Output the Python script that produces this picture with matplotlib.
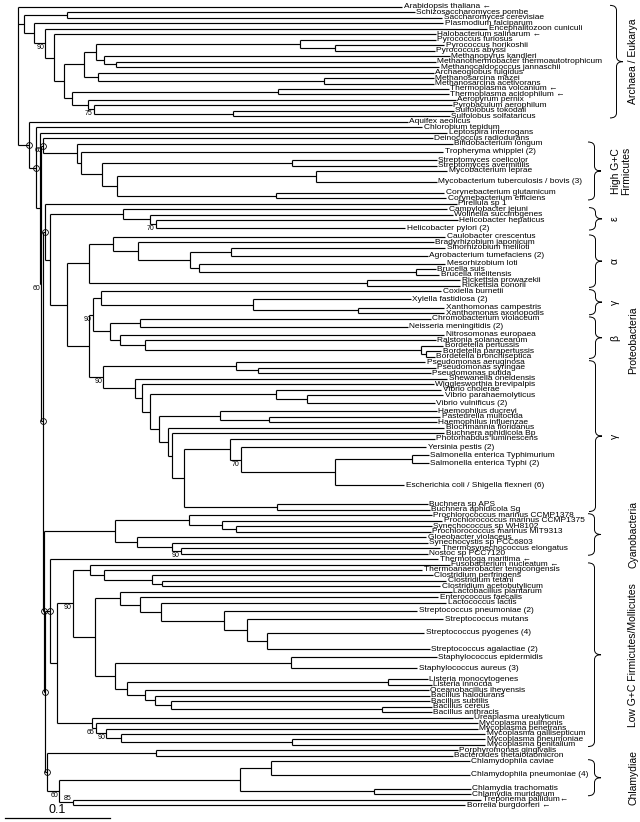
import re
import matplotlib
matplotlib.use("Agg")
import matplotlib.pyplot as plt
from matplotlib.collections import LineCollection
from matplotlib.path import Path
from matplotlib.patches import PathPatch

plt.rcParams['font.family'] = ['Liberation Sans', 'DejaVu Sans']

# leaf codes -> printed names; "(n)" = number of collapsed strains
leaf_names = {
    'Ath': 'Arabidopsis thaliana ←', 'Spo': 'Schizosaccharomyces pombe',
    'Sce': 'Saccharomyces cerevisiae', 'Pfa': 'Plasmodium falciparum',
    'Ecu': 'Encephalitozoon cuniculi', 'Hsa': 'Halobacterium salinarum ←',
    'Pfu': 'Pyrococcus furiosus', 'Pho': 'Pyrococcus horikoshii', 'Pab': 'Pyrococcus abyssi',
    'Mka': 'Methanopyrus kandleri', 'Mth': 'Methanothermobacter thermoautotrophicum',
    'Mja': 'Methanocaldococcus jannaschii', 'Afu': 'Archaeoglobus fulgidus',
    'Mma': 'Methanosarcina mazei', 'Mac': 'Methanosarcina acetivorans',
    'Tvo': 'Thermoplasma volcanium ←', 'Tac': 'Thermoplasma acidophilum ←',
    'Ape': 'Aeropyrum pernix', 'Pya': 'Pyrobaculum aerophilum',
    'Sto': 'Sulfolobus tokodaii', 'Sso': 'Sulfolobus solfataricus',
    'Aae': 'Aquifex aeolicus', 'Ctep': 'Chlorobium tepidum',
    'Lint': 'Leptospira interrogans', 'Dra': 'Deinococcus radiodurans',
    'Blo': 'Bifidobacterium longum', 'Twh': 'Tropheryma whipplei (2)',
    'Sco': 'Streptomyces coelicolor', 'Sav': 'Streptomyces avermitilis',
    'Mle': 'Mycobacterium leprae', 'Mtu': 'Mycobacterium tuberculosis / bovis (3)',
    'Cgl': 'Corynebacterium glutamicum', 'Cef': 'Corynebacterium efficiens',
    'Pir': 'Pirellula sp 1', 'Cje': 'Campylobacter jejuni', 'Wsu': 'Wolinella succinogenes',
    'Hhe': 'Helicobacter hepaticus', 'Hpy': 'Helicobacter pylori (2)',
    'Ccr': 'Caulobacter crescentus', 'Bja': 'Bradyrhizobium japonicum',
    'Sme': 'Sinorhizobium meliloti', 'Atu': 'Agrobacterium tumefaciens (2)',
    'Mlo': 'Mesorhizobium loti', 'Bsui': 'Brucella suis', 'Bme': 'Brucella melitensis',
    'Rpr': 'Rickettsia prowazekii', 'Rco': 'Rickettsia conorii',
    'Cbu': 'Coxiella burnetii', 'Xfa': 'Xylella fastidiosa (2)',
    'Xca': 'Xanthomonas campestris', 'Xax': 'Xanthomonas axonopodis',
    'Cvi': 'Chromobacterium violaceum', 'Nme': 'Neisseria meningitidis (2)',
    'Neu': 'Nitrosomonas europaea', 'Rso': 'Ralstonia solanacearum',
    'Bpe': 'Bordetella pertussis', 'Bpa': 'Bordetella parapertussis',
    'Bbr': 'Bordetella bronchiseptica', 'Paer': 'Pseudomonas aeruginosa',
    'Psy': 'Pseudomonas syringae', 'Ppu': 'Pseudomonas putida',
    'Son': 'Shewanella oneidensis', 'Wbr': 'Wigglesworthia brevipalpis',
    'Vch': 'Vibrio cholerae', 'Vpa': 'Vibrio parahaemolyticus', 'Vvu': 'Vibrio vulnificus (2)',
    'Hdu': 'Haemophilus ducreyi', 'Pmu': 'Pasteurella multocida',
    'Hin': 'Haemophilus influenzae', 'Bfl': 'Blochmannia floridanus',
    'Bab': 'Buchnera aphidicola Bp', 'Plu': 'Photorhabdus luminescens',
    'Ype': 'Yersinia pestis (2)', 'Sty': 'Salmonella enterica Typhimurium',
    'Stt': 'Salmonella enterica Typhi (2)', 'Eco': 'Escherichia coli / Shigella flexneri (6)',
    'Bap': 'Buchnera sp APS', 'Bsg': 'Buchnera aphidicola Sg',
    'Pmm': 'Prochlorococcus marinus CCMP1378', 'Pma': 'Prochlorococcus marinus CCMP1375',
    'Syw': 'Synechococcus sp WH8102', 'Pmt': 'Prochlorococcus marinus MIT9313',
    'Gvi': 'Gloeobacter violaceus', 'Syn': 'Synechocystis sp PCC6803',
    'Tel': 'Thermosynechococcus elongatus', 'Nos': 'Nostoc sp PCC7120',
    'Tma': 'Thermotoga maritima ←', 'Fnu': 'Fusobacterium nucleatum ←',
    'Tte': 'Thermoanaerobacter tengcongensis', 'Cpe': 'Clostridium perfringens',
    'Ctet': 'Clostridium tetani', 'Cac': 'Clostridium acetobutylicum',
    'Lpl': 'Lactobacillus plantarum', 'Efa': 'Enterococcus faecalis',
    'Lla': 'Lactococcus lactis', 'Spn': 'Streptococcus pneumoniae (2)',
    'Smu': 'Streptococcus mutans', 'Spy': 'Streptococcus pyogenes (4)',
    'Sag': 'Streptococcus agalactiae (2)', 'Sep': 'Staphylococcus epidermidis',
    'Sau': 'Staphylococcus aureus (3)', 'Lmo': 'Listeria monocytogenes',
    'Linn': 'Listeria innocua', 'Oih': 'Oceanobacillus iheyensis',
    'Bha': 'Bacillus halodurans', 'Bsub': 'Bacillus subtilis', 'Bce': 'Bacillus cereus',
    'Ban': 'Bacillus anthracis', 'Uur': 'Ureaplasma urealyticum',
    'Mpu': 'Mycoplasma pulmonis', 'Mpe': 'Mycoplasma penetrans',
    'Mga': 'Mycoplasma gallisepticum', 'Mpn': 'Mycoplasma pneumoniae',
    'Mge': 'Mycoplasma genitalium', 'Pgi': 'Porphyromonas gingivalis',
    'Bth': 'Bacteroides thetaiotaomicron', 'Cca': 'Chlamydophila caviae',
    'Cpn': 'Chlamydophila pneumoniae (4)', 'Ctr': 'Chlamydia trachomatis',
    'Cmu': 'Chlamydia muridarum', 'Tpa': 'Treponema pallidum←',
    'Bbu': 'Borrelia burgdorferi ←',
}

# branch lengths (substitutions / site)
euk_arch = ("((Spo:0.331,Sce:0.357)Y:0.041,(Pfa:0.390,(Ecu:0.421,(Hsa:0.364,"
            "((((Pfu:0.129,(Pho:0.104,Pab:0.095)Pyro2:0.033)Pyro:0.195,"
            "(Mka:0.329,(Mth:0.305,Mja:0.308)A5b:0.011)A5:0.008)A4:0.011,"
            "(Afu:0.320,(Mma:0.105,Mac:0.105)Msar:0.215)A6:0.013)A3:0.019,"
            "((Tvo:0.162,Tac:0.162)Tpl:0.197,(Ape:0.350,(Pya:0.341,"
            "(Sto:0.210,Sso:0.206)Sul:0.133)A10:0.005)A9:0.016)A8:0.007)A2:0.010"
            ")A1:0.008)E3:0.011)E2:0.009)E1:0.006")
high_gc = ("(Dra:0.371,(Blo:0.358,(Twh:0.345,((Sco:0.138,Sav:0.138)Strm:0.181,"
           "((Mle:0.125,Mtu:0.115)Myco:0.190,(Cgl:0.160,Cef:0.162)Cory:0.152)H4:0.014"
           ")H3:0.020)H2:0.004)H1:0.032)D:0.002")
alpha = ("((Ccr:0.317,(Bja:0.282,((Sme:0.204,Atu:0.187)SA:0.039,(Mlo:0.235,"
         "(Bsui:0.019,Bme:0.022)Bru:0.207)a5:0.008)a4:0.050)a3:0.024)a2:0.022,"
         "(Rpr:0.089,Rco:0.089)Rick:0.264)a1:0.021")
beta_gamma = ("((Cbu:0.324,(Xfa:0.150,(Xca:0.082,Xax:0.082)Xan:0.100)X:0.145)Cox:0.008,"
              "((Cvi:0.277,Nme:0.255)CN:0.028,(Neu:0.309,(Rso:0.277,(Bpe:0.021,"
              "(Bpa:0.014,Bbr:0.008)Bpp:0.005)Bord:0.263)Bc:0.024)Bb:0.009)Ba:0.017)P3:0.003")
gamma = ("((Paer:0.180,(Psy:0.169,Ppu:0.164)Pps:0.021)Pse:0.127,(Son:0.298,(Wbr:0.278,"
         "((Vch:0.157,(Vpa:0.130,Vvu:0.122)Vpv:0.029)Vib:0.120,((Hdu:0.207,"
         "(Pmu:0.163,Hin:0.160)HP:0.047)Hae:0.058,(Bfl:0.263,(Bab:0.259,((Plu:0.195,"
         "(Ype:0.177,((Sty:0.016,Stt:0.016)Sal:0.073,Eco:0.066)G11:0.090)G10:0.010)G9:0.044,"
         "(Bap:0.143,Bsg:0.145)Buc:0.089)G8:0.011)G7:0.004)G6:0.009)G5:0.008)G4:0.008"
         ")G3:0.007)G2:0.030)G1:0.013")
proteo = ("(Pir:0.392,((Cje:0.309,(Wsu:0.288,(Hhe:0.288,Hpy:0.238)Ec:0.005)Eb:0.026)Eps:0.070,"
          "(" + alpha + ",(" + beta_gamma + "," + gamma + ")P2:0.021)P1:0.017)W:0.004)V:0.002")
cyano = ("((Pmm:0.231,(Pma:0.210,(Syw:0.186,Pmt:0.185)C1c:0.014)C1b:0.031)C1:0.071,"
         "(Gvi:0.276,(Syn:0.243,(Tel:0.247,Nos:0.235)C4:0.008)C3:0.034)C2:0.021)Cyan:0.067")
low_gc = ("((Fnu:0.342,(Tte:0.303,(Cpe:0.267,(Ctet:0.271,Cac:0.265)Cl4:0.009)Cl3:0.046"
          ")Cl2:0.013)Clos:0.017,((Lpl:0.316,(Efa:0.284,(Lla:0.272,(Spn:0.184,(Smu:0.187,"
          "(Spy:0.150,Sag:0.155)St3:0.019)St2:0.022)St1:0.060)L3:0.020)L2:0.019)Lac:0.024,"
          "((Sep:0.139,Sau:0.120)Sta:0.168,((Lmo:0.038,Linn:0.042)Lis:0.248,(Oih:0.270,"
          "(Bha:0.262,(Bsub:0.246,(Bce:0.047,Ban:0.047)Bcg:0.201)Bc5:0.016)Bc4:0.009"
          ")Bc3:0.017)Bc2:0.012)Bac:0.019)Lb:0.021)F1:0.015")
mollicutes = ("(Uur:0.363,(Mpu:0.364,(Mpe:0.354,(Mga:0.347,(Mpn:0.184,Mge:0.184)Mpg:0.163"
              ")M4:0.014)M3:0.010)M2:0.004)Moll:0.033")
chlam_spiro = ("((Pgi:0.288,Bth:0.283)Bact:0.103,(((Cca:0.189,Cpn:0.189)Cph:0.030,"
               "(Ctr:0.092,Cmu:0.092)Cla:0.128)Chl:0.172,(Tpa:0.389,Bbu:0.374)Spi:0.013"
               ")Sp:0.011)S:0.002")
bacteria = ("(Aae:0.361,(Ctep:0.368,(Lint:0.388,(" + high_gc + ",(" + proteo + ",(" + cyano +
            ",((Tma:0.370,(" + low_gc + "," + mollicutes + ")Q2:0.007)Q:0.004," + chlam_spiro +
            ")R:0.001)T:0.001)B5:0.002)B4:0.001)B3:0.004)B2:0.007)B1:0.010")
newick = "(Ath:0.366," + euk_arch + "," + bacteria + ")root;"

support = {'E3': 90, 'A10': 75, 'D': 65, 'B4': 60, 'Ec': 70, 'P3': 90, 'G1': 90,
           'G10': 70, 'C4': 90, 'F1': 90, 'M2': 65, 'M3': 90, 'Sp': 60, 'Spi': 85}
circled = ['B1', 'B2', 'D', 'V', 'B5', 'T', 'Q', 'R', 'S']

groups = [
    ('Archaea / Eukarya', 'Ath', 'Sso'),
    ('High G+C\nFirmicutes', 'Blo', 'Cef'),
    ('ε', 'Cje', 'Hpy'),
    ('α', 'Ccr', 'Rco'),
    ('γ', 'Cbu', 'Xax'),
    ('β', 'Cvi', 'Bbr'),
    ('γ', 'Paer', 'Bsg'),
    ('Cyanobacteria', 'Pmm', 'Nos'),
    ('Low G+C Firmicutes/Mollicutes', 'Fnu', 'Mge'),
    ('Chlamydiae', 'Cca', 'Cmu'),
]


def parse(s):
    s = s.replace(' ', '').rstrip(';')
    pos = 0

    def node():
        nonlocal pos
        kids = []
        if s[pos] == '(':
            pos += 1
            kids.append(node())
            while s[pos] == ',':
                pos += 1
                kids.append(node())
            pos += 1
        m = re.match(r'([A-Za-z0-9_]*)(?::([0-9.]+))?', s[pos:])
        pos += m.end()
        return {'name': m.group(1), 'len': float(m.group(2) or 0), 'kids': kids}
    return node()


def weight(name):
    m = re.search(r'\((\d+)\)$', leaf_names[name])
    return int(m.group(1)) if m else 1


tree = parse(newick)
nodes = {}
state = {'y': 0.0, 'prev': None}


def place(n, depth):
    n['x'] = depth + n['len']
    nodes[n['name']] = n
    if not n['kids']:
        w = weight(n['name'])
        n['y'] = 0.0 if state['prev'] is None else state['y'] + (state['prev'] + w) / 2
        state['y'], state['prev'] = n['y'], w
    else:
        for k in n['kids']:
            place(k, n['x'])
        n['y'] = (n['kids'][0]['y'] + n['kids'][-1]['y']) / 2


place(tree, 0.0)

# pixel -> data helpers (0.1 substitutions = 105 px)
PX_X = 0.1 / 105
PX_Y = 1 / 5.466

fig = plt.figure(figsize=(6.4, 8.22), dpi=100)
ax = fig.add_axes([0, 0, 1, 1])
ax.set_xlim(-18 * PX_X, 622 * PX_X)
ax.set_ylim(815 * PX_Y, -7 * PX_Y)
ax.axis('off')

segs = []
for n in nodes.values():
    if n['kids']:
        segs.append([(n['x'], n['kids'][0]['y']), (n['x'], n['kids'][-1]['y'])])
        for k in n['kids']:
            segs.append([(n['x'], k['y']), (k['x'], k['y'])])
    else:
        ax.text(n['x'] + 1.5 * PX_X, n['y'], leaf_names[n['name']], fontsize=6,
                ha='left', va='center')
ax.add_collection(LineCollection(segs, colors='black', linewidths=0.85))

for name in circled:
    n = nodes[name]
    ax.plot(n['x'], n['y'], 'o', ms=4.2, mfc='none', mec='black', mew=0.6)

for name, val in support.items():
    n = nodes[name]
    dy = -3.5 if name == 'Spi' else 4.5
    ax.text(n['x'] - 1 * PX_X, n['y'] + dy * PX_Y, str(val), fontsize=5,
            ha='right', va='center')


def brace(x0, ya, yb, w):
    xm, xr = x0 + w / 2, x0 + w
    ym = (ya + yb) / 2
    r = min(5 * PX_Y, (yb - ya) / 4)
    verts = [(x0, ya), (xm, ya), (xm, ya + r), (xm, ym - r), (xm, ym), (xr, ym),
             (xm, ym), (xm, ym + r), (xm, yb - r), (xm, yb), (x0, yb)]
    codes = [Path.MOVETO, Path.CURVE3, Path.CURVE3, Path.LINETO, Path.CURVE3, Path.CURVE3,
             Path.CURVE3, Path.CURVE3, Path.LINETO, Path.CURVE3, Path.CURVE3]
    ax.add_patch(PathPatch(Path(verts, codes), fill=False, lw=0.7, color='black'))
    return ym


for label, first, last in groups:
    ya, yb = nodes[first]['y'] - 0.3, nodes[last]['y'] + 0.3
    if label.startswith('Archaea'):
        ym = brace((610 - 18) * PX_X, ya, yb, 13 * PX_X)
        ax.text((633 - 18) * PX_X, ym, label, rotation=90, fontsize=7.5, ha='center', va='center')
    elif len(label) == 1:
        ym = brace((589 - 18) * PX_X, ya, yb, 13 * PX_X)
        ax.text((615 - 18) * PX_X, ym, label, rotation=90, fontsize=7.5, ha='center', va='center')
    else:
        ym = brace((588 - 18) * PX_X, ya, yb, 13 * PX_X)
        xt = 621 if '\n' in label else 633
        ax.text((xt - 18) * PX_X, ym, label, rotation=90, fontsize=7.5, ha='center',
                va='center', linespacing=1.0)

ax.text((633 - 18) * PX_X, nodes['Rso']['y'], 'Proteobacteria', rotation=90, fontsize=7.5,
        ha='center', va='center')

# scale bar
ybar = (818 - 7) * PX_Y
ax.plot([(5 - 18) * PX_X, (5 - 18) * PX_X + 0.1], [ybar, ybar], color='black', lw=0.9)
ax.text((5 - 18) * PX_X + 0.05, (810 - 7) * PX_Y, '0.1', fontsize=9, ha='center', va='center')

fig.savefig('out.png', dpi=100)
